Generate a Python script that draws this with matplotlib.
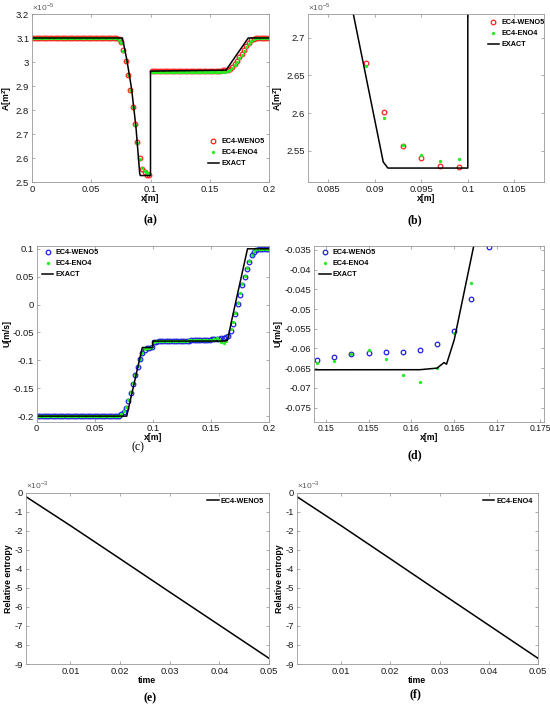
import numpy as np
import matplotlib
matplotlib.use('Agg')
import matplotlib.pyplot as plt
from matplotlib.ticker import FuncFormatter

plt.rcParams['font.family'] = ['Liberation Sans', 'DejaVu Sans']
plt.rcParams['mathtext.fontset'] = 'custom'
plt.rcParams['mathtext.rm'] = 'Liberation Sans'
plt.rcParams['mathtext.bf'] = 'Liberation Sans:bold'

# cell centres (dx = 0.002)
x_cells = np.round(np.arange(0.001, 0.2, 0.002), 3)

# ---- area A (units of 1e-5 m^2) ----
A_weno5 = ([3.100] * 35 +
           [3.099, 3.094, 3.082, 3.050, 3.005, 2.946, 2.883, 2.814, 2.740,
            2.666, 2.602, 2.556, 2.541, 2.530, 2.529] +
           [2.961] * 27 +
           [2.962, 2.963, 2.964, 2.965, 2.966] +
           [2.967, 2.970, 2.978, 2.990, 3.004, 3.019, 3.035, 3.051, 3.066,
            3.080, 3.090, 3.096, 3.099] +
           [3.100] * 5)
A_eno4 = ([3.100] * 35 +
          [3.098, 3.092, 3.079, 3.047, 3.003, 2.945, 2.882, 2.813, 2.738,
           2.662, 2.594, 2.557, 2.544, 2.537, 2.539] +
          [2.960] * 27 +
          [2.960, 2.959, 2.958, 2.957, 2.958] +
          [2.962, 2.966, 2.974, 2.986, 3.000, 3.015, 3.031, 3.047, 3.062,
           3.077, 3.088, 3.095, 3.099] +
          [3.100] * 5)
A_exact_x = [0, 0.0763, 0.080, 0.084, 0.0877, 0.0909, 0.0914, 0.1, 0.1,
             0.1637, 0.1825, 0.2]
A_exact = [3.1, 3.1, 3.01, 2.89, 2.73, 2.535, 2.527, 2.527, 2.962,
           2.966, 3.1, 3.1]

# ---- velocity U (m/s) ----
U_weno5 = ([-0.2] * 35 +
           [-0.199, -0.197, -0.193, -0.185, -0.173, -0.159, -0.143, -0.127,
            -0.112, -0.098, -0.087, -0.081, -0.078, -0.077, -0.076] +
           [-0.0680, -0.0665, -0.0660, -0.0658, -0.0656, -0.0655, -0.0654,
            -0.0653, -0.0652, -0.0651, -0.0650, -0.0649, -0.0648, -0.0647,
            -0.0646, -0.0645, -0.0644, -0.0643, -0.0642, -0.0641, -0.0640,
            -0.0638, -0.0636, -0.0633] +
           [-0.0629, -0.0622, -0.0615, -0.0611, -0.0610, -0.0608, -0.0603,
            -0.0589, -0.0555, -0.0475, -0.0343] +
           [-0.017, 0.001, 0.018, 0.035, 0.049, 0.064, 0.076, 0.088, 0.095,
            0.098, 0.0995, 0.1, 0.1, 0.1, 0.1])
U_eno4 = ([-0.2] * 35 +
          [-0.199, -0.196, -0.191, -0.183, -0.171, -0.157, -0.141, -0.126,
           -0.111, -0.097, -0.086, -0.080, -0.078, -0.077, -0.076] +
          [-0.0670, -0.0662, -0.0658, -0.0656, -0.0655, -0.0654, -0.0653,
           -0.0652, -0.0651, -0.0650, -0.0649, -0.0648, -0.0647, -0.0646,
           -0.0645, -0.0644, -0.0643, -0.0642, -0.0641, -0.0640, -0.0639,
           -0.0638, -0.0637, -0.0637] +
          [-0.0636, -0.0633, -0.0615, -0.0605, -0.0627, -0.0667, -0.0684,
           -0.0650, -0.0560, -0.0435, -0.0310] +
          [-0.015, 0.003, 0.020, 0.037, 0.051, 0.066, 0.078, 0.089, 0.096,
           0.099, 0.0998, 0.1, 0.1, 0.1, 0.1])
U_exact_x = [0, 0.0775, 0.0909, 0.1, 0.1, 0.161, 0.163, 0.1638, 0.1641,
             0.165, 0.1673, 0.1815, 0.2]
U_exact = [-0.2, -0.2, -0.077, -0.077, -0.0655, -0.0654, -0.065, -0.0636,
           -0.064, -0.0578, -0.0337, 0.1, 0.1]

# ---- relative entropy (units of 1e-3) ----
time = [0.001, 0.01, 0.02, 0.03, 0.04, 0.05]
entropy_weno5 = [-0.2, -1.73, -3.47, -5.22, -6.96, -8.7]
entropy_eno4 = [-0.2, -1.73, -3.47, -5.22, -6.96, -8.7]

RED = '#ff2020'
GREEN = '#22ee22'
BLUE = '#2020dd'

W, H = 550, 708
fig = plt.figure(figsize=(5.5, 7.08), dpi=100)


def make_axes(left, top, right, bottom):
    # pixel box -> figure fraction
    return fig.add_axes([left / W, 1 - bottom / H, (right - left) / W,
                         (bottom - top) / H])


def style(ax):
    for s in ax.spines.values():
        s.set_color('0.6')
        s.set_linewidth(0.6)
    ax.tick_params(direction='in', length=2.5, width=0.5, colors='0.55',
                   labelcolor='0.1', labelsize=6.8, top=True, right=True,
                   pad=2)
    fmt = FuncFormatter(lambda v, p: '%g' % (round(v, 6) + 0.0))
    ax.xaxis.set_major_formatter(fmt)
    ax.yaxis.set_major_formatter(fmt)


def label(ax, text, size=6.3):
    ax.set_xlabel(text, fontsize=size, fontweight='bold', labelpad=0)


def offset(ax, text):
    ax.text(0.0, 1.008, text, transform=ax.transAxes, fontsize=6,
            color='0.35', va='bottom', ha='left')


def tag(x, y, text, weight='bold'):
    fig.text(x / W, 1 - y / H, text, fontsize=8.5, fontweight=weight,
             family='Liberation Serif', ha='center', va='center')


def legend(ax, loc, anchor):
    leg = ax.legend(loc=loc, bbox_to_anchor=anchor, frameon=False,
                    fontsize=5.2, handlelength=1.6, handletextpad=0.3,
                    labelspacing=0.55, borderpad=0.2, numpoints=1)
    for t in leg.get_texts():
        t.set_fontweight('bold')


def plot_solution(ax, xs, s1, s2, ex_x, ex, c1, scale):
    ax.plot(xs, np.array(s1) * scale, 'o', mfc='none', mec=c1, ms=3.3,
            mew=0.9, label='EC4-WENO5')
    ax.plot(xs, np.array(s2) * scale, 'o', color=GREEN, ms=2.4, mew=0,
            label='EC4-ENO4')
    ax.plot(ex_x, np.array(ex) * scale, color='black', lw=1.1,
            label='EXACT')


# (a)
ax = make_axes(32, 14, 269, 182)
plot_solution(ax, x_cells, A_weno5, A_eno4, A_exact_x, A_exact, RED, 1)
ax.set_xlim(0, 0.2)
ax.set_ylim(2.5, 3.2)
ax.set_xticks(np.arange(0, 0.201, 0.05))
ax.set_yticks(np.arange(2.5, 3.21, 0.1))
style(ax)
label(ax, 'x[m]')
ax.set_ylabel(r'A[m$^{\mathbf{2}}$]', fontsize=6.3, fontweight='bold',
              labelpad=1)
offset(ax, r'$\times10^{-5}$')
legend(ax, 'upper left', (0.72, 0.29))

# (b)
ax = make_axes(308, 14, 544, 182)
plot_solution(ax, x_cells, A_weno5, A_eno4, A_exact_x, A_exact, RED, 1)
ax.set_xlim(0.0828, 0.1082)
ax.set_ylim(2.5085, 2.7314)
ax.set_xticks([0.085, 0.09, 0.095, 0.1, 0.105])
ax.set_yticks([2.55, 2.6, 2.65, 2.7])
style(ax)
label(ax, 'x[m]')
ax.set_ylabel(r'A[m$^{\mathbf{2}}$]', fontsize=6.3, fontweight='bold',
              labelpad=1)
offset(ax, r'$\times10^{-5}$')
legend(ax, 'upper left', (0.74, 1.0))

# (c)
ax = make_axes(36.7, 246, 269, 421.7)
plot_solution(ax, x_cells, U_weno5, U_eno4, U_exact_x, U_exact, BLUE, 1)
ax.set_xlim(0, 0.2)
ax.set_ylim(-0.21, 0.105)
ax.set_xticks(np.arange(0, 0.201, 0.05))
ax.set_yticks(np.arange(-0.2, 0.101, 0.05))
style(ax)
label(ax, 'x[m]')
ax.set_ylabel('U[m/s]', fontsize=6.3, fontweight='bold', labelpad=1)
legend(ax, 'upper left', (0.0, 1.01))

# (d)
ax = make_axes(314, 246, 544, 421.7)
plot_solution(ax, x_cells, U_weno5, U_eno4, U_exact_x, U_exact, BLUE, 1)
ax.set_xlim(0.14864, 0.17547)
ax.set_ylim(-0.0786, -0.034)
ax.set_xticks([0.15, 0.155, 0.16, 0.165, 0.17, 0.175])
ax.set_yticks(np.arange(-0.075, -0.0349, 0.005))
style(ax)
ax.tick_params(axis='x', labelsize=6.2)
label(ax, 'x[m]')
ax.set_ylabel('U[m/s]', fontsize=6.3, fontweight='bold', labelpad=1)
legend(ax, 'upper left', (0.0, 1.01))

# (e), (f)
for (l, r), ent, name in [((25.7, 269), entropy_weno5, 'EC4-WENO5'),
                          ((296.7, 538), entropy_eno4, 'EC4-ENO4')]:
    ax = make_axes(l, 492.7, r, 664)
    ax.plot(time, ent, color='black', lw=1.1, label=name)
    ax.set_xlim(0.001, 0.05)
    ax.set_ylim(-9, 0)
    ax.set_xticks([0.01, 0.02, 0.03, 0.04, 0.05])
    ax.set_yticks(np.arange(-9, 0.1, 1))
    style(ax)
    label(ax, 'time')
    ax.set_ylabel('Relative entropy', fontsize=6.3, fontweight='bold',
                  labelpad=1)
    offset(ax, r'$\times10^{-3}$')
    legend(ax, 'upper right', (1.0, 1.0))

tag(150, 220, '(a)')
tag(415, 220, '(b)')
tag(138, 447, '(c)', weight='normal')
tag(415, 455, '(d)')
tag(150, 698, '(e)')
tag(415, 694, '(f)')

fig.savefig('out.png', dpi=100)
